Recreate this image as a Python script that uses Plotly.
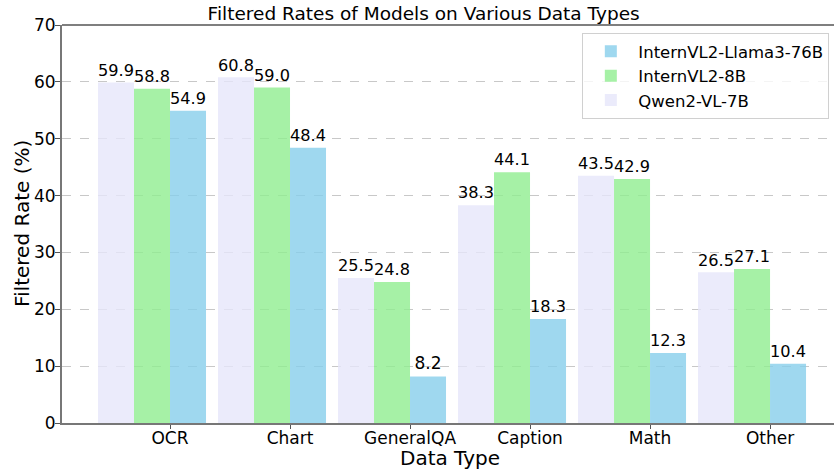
import plotly.graph_objects as go

categories = ["OCR", "Chart", "GeneralQA", "Caption", "Math", "Other"]
qwen_7b = [59.9, 60.8, 25.5, 38.3, 43.5, 26.5]
internvl2_8b = [58.8, 59.0, 24.8, 44.1, 42.9, 27.1]
internvl2_76b = [54.9, 48.4, 8.2, 18.3, 12.3, 10.4]
y_ticks = [0, 10, 20, 30, 40, 50, 60, 70]

idx = list(range(len(categories)))
W = 0.3
FONT = "DejaVu Sans"

series = [
    ("Qwen2-VL-7B", qwen_7b, "rgba(230,230,250,0.8)", -2 * W),
    ("InternVL2-8B", internvl2_8b, "rgba(144,238,144,0.8)", -W),
    ("InternVL2-Llama3-76B", internvl2_76b, "rgba(135,206,235,0.8)", 0.0),
]

fig = go.Figure()
for name, vals, color, off in series:
    fig.add_trace(go.Bar(
        x=idx, y=vals, name=name, width=W, offset=off,
        marker=dict(color=color, line=dict(width=0)),
        text=[f"{v:.1f}" for v in vals], textposition="outside",
        textfont=dict(size=17, color="black", family=FONT),
        cliponaxis=False,
    ))

fig.update_layout(
    width=834, height=475,
    margin=dict(l=62, r=0, t=25, b=52, autoexpand=False),
    barmode="overlay",
    plot_bgcolor="white", paper_bgcolor="white",
    font=dict(family=FONT, color="black"),
    title=dict(text="Filtered Rates of Models on Various Data Types",
               x=0.508, xref="container", xanchor="center",
               y=0.972, yref="container", yanchor="middle",
               font=dict(size=18.5, family=FONT, color="black")),
    legend=dict(x=0.674, y=0.98, xanchor="left", yanchor="top",
                traceorder="reversed", bgcolor="rgba(255,255,255,0.8)",
                bordercolor="#d0d0d0", borderwidth=1,
                font=dict(size=16.5, family=FONT, color="black"),
                itemwidth=45, tracegroupgap=0),
    showlegend=True,
    annotations=[
        dict(text="Data Type", xref="paper", yref="paper", x=(450 - 62) / 772, y=-35 / 398,
             xanchor="center", yanchor="middle", showarrow=False,
             font=dict(size=20, family=FONT, color="black")),
        dict(text="Filtered Rate (%)", xref="paper", yref="paper", x=(22 - 62) / 772, y=0.5,
             xanchor="center", yanchor="middle", showarrow=False, textangle=-90,
             font=dict(size=20, family=FONT, color="black")),
    ],
)

fig.update_xaxes(
    range=[-0.9, 5.533], tickmode="array", tickvals=idx, ticktext=categories,
    tickfont=dict(size=17, family=FONT, color="black"),
    ticks="outside", ticklen=4, tickcolor="#555", ticklabelstandoff=-5,
    showline=True, linecolor="#777", linewidth=2,
    showgrid=False, zeroline=False, automargin=False,
)
fig.update_yaxes(
    range=[0, 70], tickmode="array", tickvals=y_ticks,
    tickfont=dict(size=17, family=FONT, color="black"),
    ticks="outside", ticklen=5, tickcolor="#555", ticklabelstandoff=-4,
    showline=True, linecolor="#777", linewidth=2,
    showgrid=True, gridcolor="#c8c8c8", griddash="dash", gridwidth=1,
    zeroline=False, automargin=False,
)

fig.add_shape(type="line", xref="paper", yref="paper", x0=0, x1=1, y0=1, y1=1,
              line=dict(color="black", width=1.2))

fig.write_html("out.html", config={"displayModeBar": False},
               post_script="document.body.style.margin='0';document.body.style.padding='0';")
